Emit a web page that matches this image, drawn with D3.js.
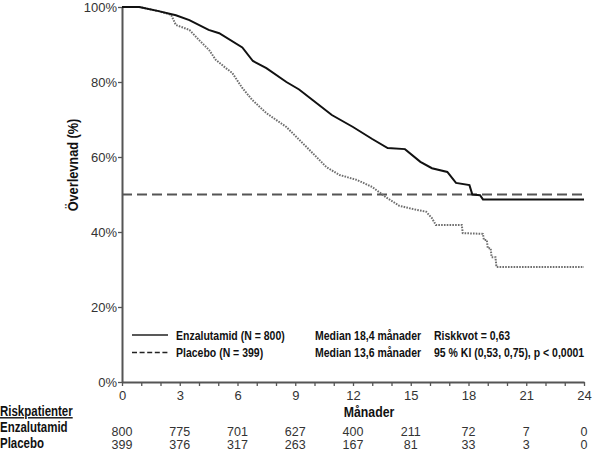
<!DOCTYPE html>
<html>
<head>
<meta charset="utf-8">
<script src="https://cdn.jsdelivr.net/npm/d3@7"></script>
<style>
  body { margin: 0; background: #fff; }
  .tick text { font-family: "Liberation Sans", Arial, sans-serif; font-size: 13px; fill: #333; }
  .axis path, .axis line { stroke: #555; }
  .narrow { font-family: "Liberation Sans", Arial, sans-serif; font-weight: bold; }
</style>
</head>
<body>
<svg id="chart"></svg>
<script>
// Kaplan-Meier curves (months, survival %)
const enzaMonths = [0, 0.9, 1.9, 2.8, 3.5, 4.5, 5.05, 6.25, 6.8, 7.5, 8.54, 9.2, 9.9, 10.9, 12.0, 13.0, 13.8, 14.7, 15.5, 16.1, 16.9, 17.35, 18.05, 18.2, 18.6, 18.75, 24];
const enzaSurv   = [100, 100, 98.9, 97.8, 96.5, 93.9, 93.0, 89.2, 85.6, 83.7, 80.0, 78.0, 75.2, 71.2, 68.0, 64.8, 62.4, 62.1, 58.7, 57.0, 56.0, 53.1, 52.5, 50.0, 49.8, 48.7, 48.7];

const placMonths = [0, 0.9, 1.9, 2.55, 2.8, 3.5, 4.0, 4.53, 4.87, 5.4, 5.73, 6.25, 6.77, 7.5, 8.54, 9.58, 10.62, 11.3, 12.2, 13.0, 13.7, 14.4, 15.3, 15.8, 16.1, 16.3, 17.65, 17.7, 18.75, 18.8, 18.95, 19.0, 19.15, 19.2, 19.4, 19.45, 24];
const placSurv   = [100, 100, 98.9, 97.9, 95.2, 93.9, 91.2, 88.5, 85.9, 83.7, 82.4, 78.4, 75.2, 71.7, 68.0, 62.7, 57.3, 55.2, 53.9, 52.0, 49.3, 47.0, 45.9, 45.4, 43.7, 41.9, 41.9, 39.7, 39.5, 37.9, 37.9, 35.7, 35.7, 33.3, 33.3, 30.7, 30.7];

const medianLevel = 50;

const xTicks = d3.range(0, 25);
const xLabelEvery = 3;
const yTicks = [0, 20, 40, 60, 80, 100];

// risk table
const riskMonths = [0, 3, 6, 9, 12, 15, 18, 21, 24];
const riskEnza = [800, 775, 701, 627, 400, 211, 72, 7, 0];
const riskPlac = [399, 376, 317, 263, 167, 81, 33, 3, 0];

const legendRows = [
  {name: "Enzalutamid (N = 800)", median: "Median 18,4 månader", stat: "Riskkvot = 0,63", dash: null},
  {name: "Placebo (N = 399)", median: "Median 13,6 månader", stat: "95 % KI (0,53, 0,75), p < 0,0001", dash: "5,2.6"}
];

const width = 593, height = 455;
const margin = {top: 7, right: 9, bottom: 73, left: 122};

const svg = d3.select("#chart").attr("width", width).attr("height", height);
const chart = svg.append("g").attr("transform", `translate(${margin.left},${margin.top})`);
const w = width - margin.left - margin.right;
const h = height - margin.top - margin.bottom;

const x = d3.scaleLinear().domain([0, 24]).range([0, w]);
const y = d3.scaleLinear().domain([0, 100]).range([h, 0]);

// no narrow font installed: bold text squeezed horizontally
function narrowText(parent, t, tx, ty, size, k, extra) {
  return parent.append("text")
      .attr("class", "narrow")
      .attr("transform", `translate(${tx},${ty})${extra || ""} scale(${k},1)`)
      .attr("font-size", size)
      .attr("fill", "#111")
      .text(t);
}

// axes
chart.append("g")
    .attr("class", "axis")
    .attr("transform", `translate(0,${h})`)
    .call(d3.axisBottom(x)
      .tickValues(xTicks)
      .tickSize(4)
      .tickSizeOuter(0)
      .tickPadding(5)
      .tickFormat(d => d % xLabelEvery === 0 ? d : ""));

chart.append("g")
    .attr("class", "axis")
    .call(d3.axisLeft(y)
      .tickValues(yTicks)
      .tickSize(4)
      .tickSizeOuter(0)
      .tickPadding(1)
      .tickFormat(d => d + "%"));

chart.selectAll(".axis path").attr("stroke-width", 2);
chart.selectAll(".axis line").attr("stroke-width", 1.3);

// median reference line
chart.append("line")
    .attr("x1", x(0)).attr("x2", x(24))
    .attr("y1", y(medianLevel)).attr("y2", y(medianLevel))
    .attr("stroke", "#555")
    .attr("stroke-width", 2)
    .attr("stroke-dasharray", "10,5");

const line = d3.line()
    .x(d => x(d[0]))
    .y(d => y(d[1]));

const placData = placMonths.map((m, i) => [m, placSurv[i]]);
const enzaData = enzaMonths.map((m, i) => [m, enzaSurv[i]]);

chart.append("path")
    .datum(placData)
    .attr("d", line)
    .attr("fill", "none")
    .attr("stroke", "#6f6f6f")
    .attr("stroke-width", 2)
    .attr("stroke-dasharray", "1.6,1.2");

chart.append("path")
    .datum(enzaData)
    .attr("d", line)
    .attr("fill", "none")
    .attr("stroke", "#111")
    .attr("stroke-width", 2);

// legend inside the plot
const legend = chart.append("g");
legendRows.forEach((r, i) => {
  const ly = 335 - margin.top + i * 17.5;
  legend.append("line")
      .attr("x1", 10).attr("x2", 46)
      .attr("y1", ly).attr("y2", ly)
      .attr("stroke", "#222")
      .attr("stroke-width", 1.6)
      .attr("stroke-dasharray", r.dash);
  [[r.name, 54], [r.median, 193], [r.stat, 312]].forEach(([t, tx]) => {
    narrowText(legend, t, tx, ly + 4.5, 12.5, 0.84);
  });
});

// axis titles
narrowText(svg, "Månader", 369, 417, 15, 0.82).attr("text-anchor", "middle");
narrowText(svg, "Överlevnad (%)", 78, 165, 15, 0.85, " rotate(-90)").attr("text-anchor", "middle");

// risk table
const labels = [["Riskpatienter", 416], ["Enzalutamid", 432], ["Placebo", 448]];
labels.forEach(([t, ty], i) => {
  narrowText(svg, t, 0, ty, 14, 0.82)
      .attr("text-decoration", i === 0 ? "underline" : null);
});

[[riskEnza, 436], [riskPlac, 449]].forEach(([vals, ty]) => {
  svg.append("g").selectAll("text")
      .data(vals)
      .join("text")
      .attr("x", (d, i) => margin.left + x(riskMonths[i]))
      .attr("y", ty)
      .attr("text-anchor", "middle")
      .attr("font-family", "Liberation Sans, Arial, sans-serif")
      .attr("font-size", 12.5)
      .attr("fill", "#333")
      .text(d => d);
});
</script>
</body>
</html>
